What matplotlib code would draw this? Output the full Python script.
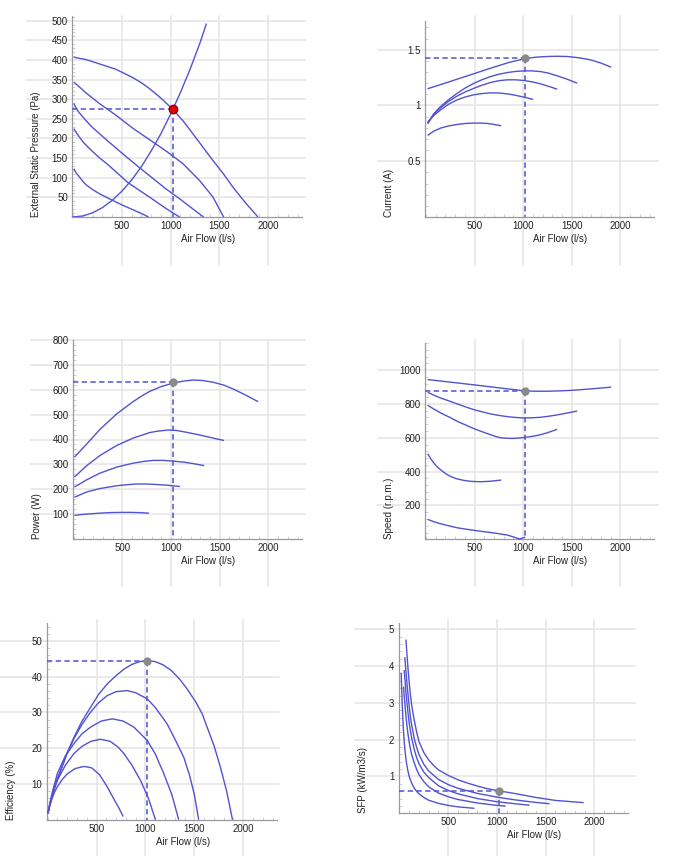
import matplotlib
matplotlib.use("Agg")
import matplotlib.pyplot as plt
from matplotlib.ticker import MultipleLocator, FixedLocator, FuncFormatter
from matplotlib.transforms import blended_transform_factory

plt.rcParams['font.family'] = ['Liberation Sans', 'DejaVu Sans']

# ---------------- data ----------------
x_label = "Air Flow (l/s)"
x_ticks = [500, 1000, 1500, 2000]

# External static pressure (Pa)
pressure_flow = [
    [8, 134, 271, 442, 613, 700, 784, 900, 1023, 1130, 1228, 1330, 1433, 1540, 1638, 1760, 1894],
    [8, 134, 271, 442, 613, 784, 954, 1125, 1296, 1433, 1542],
    [8, 50, 100, 150, 200, 350, 500, 650, 800, 950, 1100, 1230, 1337],
    [8, 50, 100, 150, 200, 270, 350, 450, 561, 680, 800, 950, 1091],
    [8, 30, 60, 100, 134, 200, 272, 400, 500, 600, 700, 773],
]
pressure_pa = [
    [407, 401, 390, 376, 355, 342, 327, 303, 274, 244, 212, 178, 144, 110, 76, 38, 0],
    [344, 316, 289, 259, 226, 197, 168, 136, 93, 51, 0],
    [289, 270, 255, 241, 228, 195, 163, 132, 102, 72, 45, 20, 0],
    [225, 209, 192, 179, 167, 151, 135, 113, 88, 68, 48, 22, 0],
    [123, 113, 104, 91, 82, 70, 59, 43, 31, 20, 9, 0],
]
system_flow = [0, 100, 200, 300, 400, 500, 600, 700, 800, 900, 1000, 1100, 1200, 1300, 1364]
system_pa = [0, 2.6, 10.5, 23.6, 42, 65.5, 94, 128, 168, 212, 262, 317, 377, 443, 491]

# Current (A)
current_flow = [
    [17, 150, 322, 500, 664, 850, 1017, 1130, 1247, 1350, 1452, 1570, 1692, 1800, 1904],
    [17, 80, 150, 230, 322, 410, 496, 580, 667, 750, 836, 920, 1007, 1090, 1178, 1260, 1349, 1450, 1555],
    [17, 80, 150, 230, 322, 410, 496, 580, 664, 750, 836, 920, 1007, 1090, 1178, 1260, 1349],
    [17, 80, 150, 230, 322, 410, 496, 580, 664, 750, 836, 900, 973, 1040, 1103],
    [17, 80, 150, 230, 322, 410, 493, 560, 630, 700, 774],
]
current_a = [
    [1.15, 1.187, 1.236, 1.287, 1.334, 1.385, 1.42, 1.433, 1.439, 1.441, 1.439, 1.428, 1.409, 1.38, 1.343],
    [0.842, 0.925, 0.99, 1.05, 1.11, 1.16, 1.2, 1.232, 1.26, 1.28, 1.295, 1.305, 1.31, 1.31, 1.304, 1.29, 1.266, 1.236, 1.2],
    [0.836, 0.92, 0.98, 1.035, 1.085, 1.124, 1.155, 1.183, 1.206, 1.222, 1.23, 1.23, 1.224, 1.212, 1.194, 1.172, 1.146],
    [0.848, 0.91, 0.96, 1.01, 1.051, 1.078, 1.096, 1.107, 1.113, 1.112, 1.104, 1.095, 1.081, 1.068, 1.054],
    [0.731, 0.77, 0.797, 0.816, 0.83, 0.839, 0.842, 0.842, 0.839, 0.83, 0.818],
]

# Power (W)
power_flow = [
    [8, 134, 271, 442, 613, 700, 783, 900, 1023, 1130, 1228, 1330, 1433, 1540, 1638, 1760, 1894],
    [8, 134, 271, 442, 613, 783, 870, 971, 1060, 1159, 1260, 1364, 1450, 1545],
    [8, 134, 271, 442, 613, 720, 818, 920, 1023, 1130, 1228, 1341],
    [8, 134, 271, 442, 540, 647, 750, 852, 970, 1091],
    [8, 70, 134, 200, 271, 370, 476, 580, 681, 773],
]
power_w = [
    [329, 382, 441, 503, 553, 575, 594, 613, 627, 635, 639, 637, 630, 619, 603, 580, 552],
    [249, 295, 336, 376, 406, 428, 434, 438, 436, 429, 421, 412, 404, 396],
    [209, 238, 265, 289, 305, 312, 316, 316, 313, 309, 303, 295],
    [168, 189, 203, 214, 218, 221, 221, 219, 216, 211],
    [95, 98, 100, 102, 104, 106, 107, 107, 106, 104],
]

# Speed (r.p.m.)
speed_flow = [
    [17, 170, 322, 490, 664, 840, 1017, 1130, 1247, 1380, 1521, 1700, 1904],
    [17, 80, 150, 240, 322, 410, 493, 580, 664, 750, 836, 920, 1007, 1090, 1178, 1260, 1349, 1450, 1555],
    [17, 80, 150, 240, 322, 410, 493, 580, 664, 720, 767, 830, 904, 970, 1041, 1110, 1178, 1260, 1349],
    [17, 50, 82, 115, 150, 200, 253, 320, 390, 470, 562, 660, 774],
    [17, 80, 150, 240, 322, 410, 493, 580, 664, 750, 836, 900, 960, 1020],
]
speed_rpm = [
    [944, 934, 924, 913, 901, 889, 877, 875, 875, 877, 881, 889, 899],
    [869, 852, 835, 817, 800, 782, 766, 753, 741, 732, 725, 720, 717, 718, 721, 727, 735, 746, 758],
    [792, 770, 747, 722, 697, 675, 654, 635, 618, 607, 600, 597, 596, 599, 604, 610, 618, 632, 650],
    [506, 475, 450, 428, 411, 389, 371, 357, 348, 342, 340, 343, 350],
    [118, 104, 92, 79, 68, 60, 53, 46, 40, 33, 25, 14, 2, 12],
]

# Efficiency (%)
eff_flow = [
    [3, 25, 50, 80, 133, 200, 270, 350, 440, 520, 610, 700, 780, 860, 940, 1020, 1100, 1180,
     1260, 1340, 1420, 1517, 1580, 1630, 1700, 1765, 1830, 1890],
    [3, 25, 50, 80, 133, 200, 269, 350, 439, 520, 609, 700, 813, 900, 1017, 1100, 1221, 1300,
     1391, 1450, 1500, 1544],
    [3, 25, 50, 99, 180, 269, 350, 439, 550, 660, 770, 881, 1017, 1100, 1187, 1270, 1340],
    [3, 25, 50, 99, 180, 269, 350, 440, 541, 640, 720, 779, 860, 949, 1030, 1102],
    [3, 20, 40, 70, 99, 150, 200, 280, 371, 450, 530, 609, 660, 720, 772],
]
eff_pct = [
    [1.8, 4.5, 7.2, 10.0, 13.8, 18.8, 23.1, 27.5, 31.5, 35.0, 38.0, 40.3, 42.1, 43.4, 44.2, 44.5,
     44.2, 43.3, 41.8, 39.6, 36.8, 32.8, 29.6, 25.9, 20.8, 14.8, 8.0, 0],
    [1.8, 4.5, 7.2, 10.0, 13.8, 18.6, 22.7, 26.6, 30.1, 32.7, 34.7, 35.8, 36.1, 35.5, 33.8, 31.4,
     26.8, 22.6, 17.5, 12.5, 7.0, 0],
    [1.8, 5.0, 8.0, 12.9, 17.8, 21.3, 24.0, 25.9, 27.6, 28.2, 27.6, 25.9, 22.2, 18.4, 12.9, 7.0, 0],
    [1.8, 4.6, 7.0, 11.0, 15.2, 18.5, 20.5, 21.9, 22.5, 21.9, 20.3, 18.5, 15.3, 11.0, 6.0, 0],
    [1.8, 3.8, 5.5, 7.7, 9.2, 11.3, 12.8, 14.3, 14.9, 14.5, 12.6, 9.2, 6.6, 3.7, 0.9],
]

# SFP (kW/m3/s)
sfp_flow = [
    [66, 73, 80, 90, 100, 112, 125, 140, 150, 175, 200, 250, 300, 350, 400, 500, 600, 700, 800,
     900, 1020, 1200, 1400, 1600, 1890],
    [55, 62, 70, 77, 85, 100, 112, 125, 150, 175, 200, 250, 300, 400, 500, 600, 800, 1020, 1200,
     1400, 1540],
    [48, 54, 60, 67, 75, 87, 100, 112, 125, 150, 175, 200, 250, 300, 400, 500, 600, 800, 1000,
     1200, 1335],
    [42, 48, 55, 62, 70, 77, 85, 100, 112, 125, 150, 175, 200, 250, 300, 400, 500, 600, 800,
     1000, 1090],
    [18, 21, 25, 30, 35, 42, 50, 60, 70, 85, 100, 125, 150, 175, 200, 250, 300, 400, 500, 600, 770],
]
sfp_val = [
    [4.72, 4.45, 4.2, 3.85, 3.55, 3.22, 2.95, 2.7, 2.55, 2.22, 1.95, 1.65, 1.45, 1.3, 1.18, 1.03,
     0.91, 0.82, 0.74, 0.67, 0.61, 0.53, 0.43, 0.35, 0.29],
    [4.24, 4.0, 3.75, 3.52, 3.3, 2.9, 2.62, 2.4, 2.05, 1.8, 1.6, 1.33, 1.15, 0.92, 0.78, 0.68,
     0.54, 0.43, 0.36, 0.295, 0.26],
    [3.89, 3.7, 3.5, 3.27, 3.05, 2.74, 2.45, 2.24, 2.05, 1.75, 1.52, 1.35, 1.12, 0.97, 0.75, 0.62,
     0.53, 0.40, 0.315, 0.255, 0.22],
    [3.44, 3.2, 3.0, 2.76, 2.55, 2.37, 2.2, 1.93, 1.75, 1.6, 1.38, 1.2, 1.05, 0.86, 0.72, 0.55,
     0.45, 0.375, 0.28, 0.215, 0.195],
    [3.82, 3.5, 3.2, 2.85, 2.55, 2.2, 1.9, 1.63, 1.4, 1.17, 1.0, 0.82, 0.69, 0.6, 0.53, 0.43,
     0.355, 0.27, 0.215, 0.175, 0.135],
]

duty_flow = 1020
duty_values = [275, 1.43, 630, 877, 44.5, 0.61]

y_labels = ["External Static Pressure (Pa)", "Current (A)", "Power (W)",
            "Speed (r.p.m.)", "Efficiency (%)", "SFP (kW/m3/s)"]
y_ticks = [
    [50, 100, 150, 200, 250, 300, 350, 400, 450, 500],
    [0.5, 1, 1.5],
    [100, 200, 300, 400, 500, 600, 700, 800],
    [200, 400, 600, 800, 1000],
    [10, 20, 30, 40, 50],
    [1, 2, 3, 4, 5],
]

# ---------------- layout / style ----------------
W, H = 676, 856
boxes = [  # left, top, right, bottom in pixels
    (72, 16, 302, 217),
    (425, 20.7, 654, 217),
    (72.7, 340, 302, 539),
    (425, 343, 654, 539.3),
    (46.7, 623, 277, 819.7),
    (398.5, 623, 628, 813.3),
]
ylims = [(0, 512), (0, 1.76), (0, 800), (0, 1160), (0, 55), (0, 5.17)]
y_minor = [10, 0.1, 20, 40, 2, 0.2]
grid_h_ext = [(27, 305), (378, 658), (31, 305), (378, 658), (0, 279), (355, 635)]
grid_v_ext = [(16, 265), (16, 265), (340, 586), (340, 586), (620, 856), (620, 856)]

CURVE = '#5252d2'
GRID = '#e4e4e4'
TXT = '#222222'

series = [
    (pressure_flow, pressure_pa),
    (current_flow, current_a),
    (power_flow, power_w),
    (speed_flow, speed_rpm),
    (eff_flow, eff_pct),
    (sfp_flow, sfp_val),
]

fig = plt.figure(figsize=(W / 100, H / 100), dpi=100)
fig.patch.set_facecolor('white')

for i in range(6):
    l, t, r, b = boxes[i]
    ax = fig.add_axes([l / W, 1 - b / H, (r - l) / W, (b - t) / H])
    ax.patch.set_visible(False)
    ax.set_xlim(-10, 2345)
    ax.set_ylim(*ylims[i])

    # extended grid lines
    tv = blended_transform_factory(ax.transData, fig.transFigure)
    th = blended_transform_factory(fig.transFigure, ax.transData)
    y0, y1 = grid_v_ext[i]
    for xv in x_ticks:
        ax.plot([xv, xv], [1 - y0 / H, 1 - y1 / H], transform=tv, color=GRID,
                lw=1.1, clip_on=False, zorder=0.5)
    x0, x1 = grid_h_ext[i]
    for yv in y_ticks[i]:
        ax.plot([x0 / W, x1 / W], [yv, yv], transform=th, color=GRID,
                lw=1.1, clip_on=False, zorder=0.5)

    flows, vals = series[i]
    for q, v in zip(flows, vals):
        ax.plot(q, v, color=CURVE, lw=1.0, zorder=3, clip_on=False,
                solid_joinstyle='round', solid_capstyle='butt')
    if i == 0:
        ax.plot(system_flow, system_pa, color=CURVE, lw=1.0, zorder=3,
                solid_joinstyle='round')

    # duty point with dashed guides
    dv = duty_values[i]
    ax.plot([-10, duty_flow], [dv, dv], color=CURVE, lw=1.1, ls=(0, (3.5, 2.2)), zorder=4)
    ax.plot([duty_flow, duty_flow], [dv, 0], color=CURVE, lw=1.1, ls=(0, (3.5, 2.2)), zorder=4)
    if i == 0:
        ax.plot([duty_flow], [dv], 'o', ms=6.2, mfc='#e00000', mec='#7a0000', mew=0.8,
                zorder=6, clip_on=False)
    else:
        ax.plot([duty_flow], [dv], 'o', ms=5.0, mfc='#8a8a8a', mec='#8a8a8a',
                zorder=6, clip_on=False)

    # axes styling
    ax.set_xlim(-10, 2345)
    ax.set_ylim(*ylims[i])
    for s in ['top', 'right']:
        ax.spines[s].set_visible(False)
    for s in ['left', 'bottom']:
        ax.spines[s].set_color('#9a9a9a')
        ax.spines[s].set_linewidth(0.9)
    ax.xaxis.set_major_locator(FixedLocator(x_ticks))
    ax.yaxis.set_major_locator(FixedLocator(y_ticks[i]))
    ax.yaxis.set_major_formatter(FuncFormatter(lambda v, p: f"{v:g}"))
    ax.xaxis.set_minor_locator(MultipleLocator(100))
    ax.yaxis.set_minor_locator(MultipleLocator(y_minor[i]))
    ax.tick_params(which='major', length=0, labelsize=7, colors=TXT, pad=3)
    ax.tick_params(which='minor', direction='in', length=2.5, width=0.6, color='#c8c8c8')

    w = r - l
    h = b - t
    ax.set_xlabel(x_label, fontsize=7, color=TXT)
    ax.xaxis.set_label_coords(0.59, -17 / h)
    ax.set_ylabel(y_labels[i], fontsize=7, color=TXT, loc='bottom')
    ax.yaxis.set_label_coords(-31 / w, 0)

fig.savefig("out.png", dpi=100, facecolor='white')
